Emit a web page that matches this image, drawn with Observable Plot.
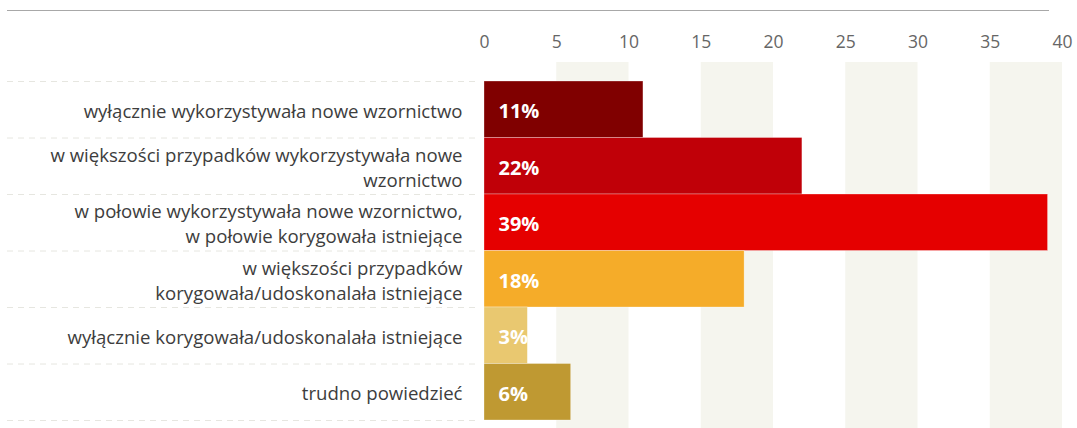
<!DOCTYPE html>
<html>
<head>
<meta charset="utf-8">
<script src="https://cdn.jsdelivr.net/npm/d3@7"></script>
<script src="https://cdn.jsdelivr.net/npm/@observablehq/plot@0.6"></script>
<style>
  body { margin: 0; background: #fff; }
  #rule { margin-left: 7px; width: 1042px; height: 10px; border-bottom: 1.5px solid #a8a8a8; }
  svg { display: block; }
</style>
</head>
<body>
<div id="rule"></div>
<div id="chart"></div>
<script>
const categories = [
  "wyłącznie wykorzystywała nowe wzornictwo",
  "w większości przypadków wykorzystywała nowe\nwzornictwo",
  "w połowie wykorzystywała nowe wzornictwo,\nw połowie korygowała istniejące",
  "w większości przypadków\nkorygowała/udoskonalała istniejące",
  "wyłącznie korygowała/udoskonalała istniejące",
  "trudno powiedzieć"
];
const values = [11, 22, 39, 18, 3, 6];
const colors = ["#800000", "#c00008", "#e50000", "#f5ac29", "#e9c870", "#bf9932"];
const ticks = [0, 5, 10, 15, 20, 25, 30, 35, 40];
const bandStarts = [5, 15, 25, 35];

const data = categories.map((c, i) => ({ label: c, value: values[i], color: colors[i], i }));
const boundaries = d3.range(categories.length + 1);

const W = 1077, H = 417, ML = 484, MR = 15, MT = 70, MB = 8;
const font = "'Open Sans', Lato, sans-serif";

const plot = Plot.plot({
  width: W,
  height: H,
  marginLeft: ML,
  marginRight: MR,
  marginTop: MT,
  marginBottom: MB,
  style: { fontFamily: font, background: "transparent" },
  x: { domain: [0, 40], ticks: ticks },
  y: { domain: [categories.length, 0], axis: null },
  marks: [
    Plot.rectX(bandStarts, { x1: d => d, x2: d => d + 5, fill: "#f5f5ee", insetTop: -19, insetBottom: -8 }),
    Plot.ruleY(boundaries, { y: d => d, stroke: "#e6e6e0", strokeDasharray: "6,5", strokeWidth: 1, insetLeft: -(ML - 7), insetRight: (W - ML - MR) + 5 }),
    Plot.rectX(data, { x1: 0, x2: "value", y1: "i", y2: d => d.i + 1, fill: "color", stroke: "#fff", strokeOpacity: 0.5, strokeWidth: 0.6 }),
    Plot.text(data, { x: 0, y: d => d.i + 0.5, text: "label", textAnchor: "end", dx: -22, fontSize: 18.6, fill: "#3d3d3d", lineHeight: 1.34 }),
    Plot.text(data, { x: 0, y: d => d.i + 0.5, text: d => d.value + "%", textAnchor: "start", dx: 14, dy: 2, fontSize: 20, fontWeight: "bold", fill: "#fff" }),
    Plot.axisX({ anchor: "top", ticks: ticks, tickSize: 0, tickPadding: 34, fontSize: 17.5, color: "#666", label: null })
  ]
});
document.getElementById("chart").append(plot);
</script>
</body>
</html>
